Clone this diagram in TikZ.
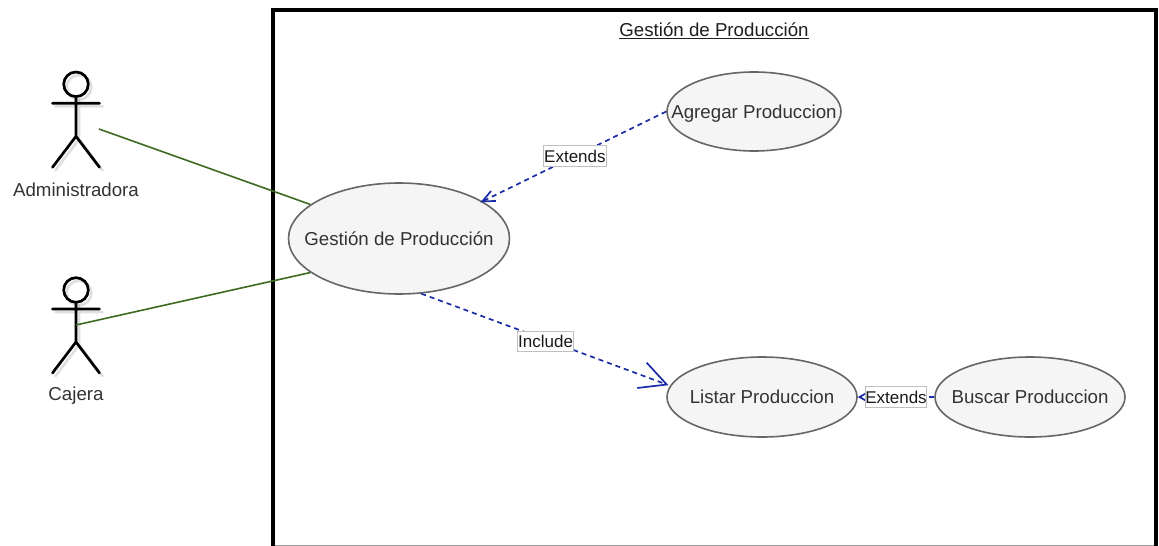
\documentclass[tikz,border=0pt]{standalone}
\usepackage{fontspec}
\setmainfont{Liberation Sans}
\usetikzlibrary{shapes.geometric,arrows.meta}
\definecolor{txt}{HTML}{333333}
\definecolor{edgegray}{HTML}{666666}
\definecolor{ufill}{HTML}{F5F5F5}
\definecolor{assoc}{HTML}{3F6A22}
\definecolor{dep}{HTML}{1A2DA6}
\newcommand{\uctext}[1]{\smash{\makebox[0pt]{\raisebox{-0.36em}{#1}}}}
\tikzset{
  x=1pt,y=-1pt,
  usecase/.style={ellipse,draw=edgegray,fill=ufill,line width=1.6pt,inner sep=0pt,text=txt,font=\fontsize{18.7}{20}\selectfont},
  actorlabel/.style={text=txt,font=\fontsize{18.7}{20}\selectfont,inner sep=0pt},
  depline/.style={draw=dep,line width=1.7pt,dash pattern=on 5pt off 4pt},
  assocline/.style={draw=assoc,line width=1.6pt},
  tag/.style={solid,draw=black!25,fill=white,line width=0.8pt,text=black!90,font=\fontsize{17}{19}\selectfont,inner sep=0pt,minimum height=20.5pt},
  actor/.pic={
    \begin{scope}[line width=2.7pt,line cap=round]
      \begin{scope}[xshift=3pt,yshift=-3pt,draw=black,opacity=0.12]
        \draw (0,0) circle[radius=12.3];
        \draw (0,12.3) -- (0,52) (-23.5,19) -- (23.5,19) (-23.5,83) -- (0,52) -- (23.5,83);
      \end{scope}
      \draw (0,0) circle[radius=12.3];
      \draw (0,12.3) -- (0,52) (-23.5,19) -- (23.5,19) (-23.5,83) -- (0,52) -- (23.5,83);
    \end{scope}
  }
}
\begin{document}
\begin{tikzpicture}
\useasboundingbox (0,0) rectangle (1159,546);
\fill[white] (0,0) rectangle (1159,546);
% system frame
\draw[black!40,line width=0.9pt] (273,545.5) -- (1156,545.5);
\draw[black,line width=3.4pt] (273,546) -- (273,10) -- (1156,10) -- (1156,546);
\node[inner sep=0pt,text=txt!60!black,font=\fontsize{18.7}{20}\selectfont] (title) at (714,31) {\underline{Gestión de Producción}};
% actors
\pic (adm) at (76,84.3) {actor};
\pic (caj) at (76,290) {actor};
\node[actorlabel] (admlabel) at (76,189.5) {Administradora};
\node[actorlabel] (cajlabel) at (76,395.5) {Cajera};
\coordinate (admport) at (99,129);
\coordinate (cajport) at (76,325);
% use cases
\node[usecase,minimum width=221pt,minimum height=111pt] (ges) at (399,238.5) {\uctext{Gestión de Producción}};
\node[usecase,minimum width=174pt,minimum height=79pt] (agr) at (754,111.5) {\uctext{Agregar Produccion}};
\node[usecase,minimum width=190pt,minimum height=80pt] (lis) at (762,397) {\uctext{Listar Produccion}};
\node[usecase,minimum width=190pt,minimum height=80pt] (bus) at (1030,397) {\uctext{Buscar Produccion}};
% associations
\draw[assocline] (admport) -- (ges.159.7);
\draw[assocline] (cajport) -- (ges.201.3);
% dependencies
\draw[depline,shorten >=-2.5pt,-{Straight Barb[length=12.5pt,width=11pt,line width=1.7pt]}] (agr.west) -- node[tag,pos=0.497,minimum width=63pt] (lab1) {Extends} (ges.24.7);
\draw[depline,shorten >=1.5pt,-{Straight Barb[length=26.5pt,width=27pt,line width=1.7pt]}] (ges.-68) -- node[tag,pos=0.5,yshift=-1.5pt,minimum width=56pt] (lab2) {Include} (lis.173);
\draw[depline,-{Straight Barb[length=7pt,width=8pt,line width=1.7pt]}] (bus.west) -- node[tag,pos=0.5,minimum width=61pt] (lab3) {Extends} (lis.east);
\end{tikzpicture}
\end{document}
